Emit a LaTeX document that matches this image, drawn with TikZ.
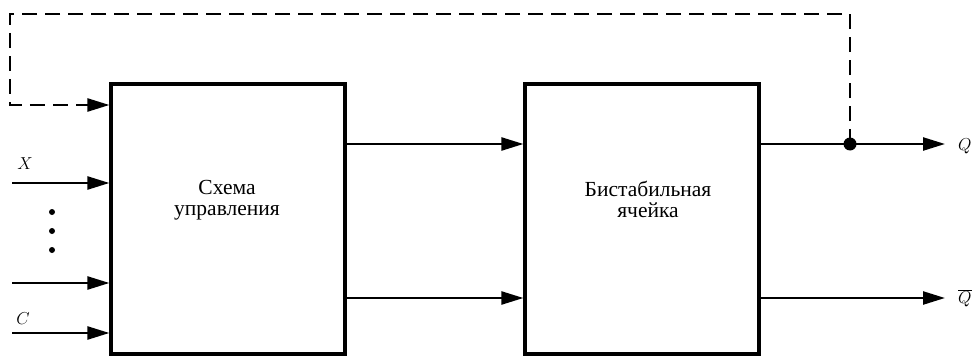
\documentclass[tikz,border=0pt]{standalone}
\usepackage{fontspec}
\setmainfont{Liberation Serif}
\usetikzlibrary{arrows.meta}
\begin{document}
\begin{tikzpicture}[x=1pt,y=-1pt,
  blk/.style={draw,line width=3.2pt,minimum width=234pt,minimum height=270pt,inner sep=0pt},
  txt/.style={font=\fontsize{21.5}{21}\selectfont,align=center,inner sep=0pt},
  lbl/.style={font=\fontsize{19}{20}\selectfont,inner sep=0pt},
  arr/.style={line width=2.4pt,-{Triangle[length=22pt,width=13pt]}},
  fbk/.style={line width=2.4pt,dash pattern=on 15pt off 8pt},
  jdot/.style={circle,fill,inner sep=0pt,minimum size=13pt}]
\useasboundingbox (0,0) rectangle (978,356);
\node[blk] (b1) at (228,219) {};
\node[blk] (b2) at (642,219) {};
\node[txt] (t1) at (227,200) {Схема\\управления};
\node[txt] (t2) at (648,199) {Бистабильная\\ячейка};
% inputs
\coordinate (ix) at (12,183);
\coordinate (in4) at (12,283);
\coordinate (ic) at (12,333);
\draw[arr] (ix) -- (ix -| b1.west);
\draw[arr] (in4) -- (in4 -| b1.west);
\draw[arr] (ic) -- (ic -| b1.west);
\node[lbl] (lx) at (25,164) {$X$};
\node[lbl] (lc) at (23,319) {$C$};
\node[circle,fill,inner sep=0pt,minimum size=6pt] (d1) at (52,212) {};
\node[circle,fill,inner sep=0pt,minimum size=6pt] (d2) at (52,231) {};
\node[circle,fill,inner sep=0pt,minimum size=6pt] (d3) at (52,250) {};
% between blocks
\coordinate (m1) at (345,144);
\coordinate (m2) at (345,298);
\draw[arr] (m1 -| b1.east) -- (m1 -| b2.west);
\draw[arr] (m2 -| b1.east) -- (m2 -| b2.west);
% outputs
\node[jdot] (jn) at (850,144) {};
\coordinate (oq) at (945,144);
\coordinate (oqb) at (945,298);
\draw[arr] (jn -| b2.east) -- (oq);
\draw[arr] (oqb -| b2.east) -- (oqb);
\node[lbl,anchor=west] (lq) at (958,146) {$Q$};
\node[lbl,anchor=west] (lqb) at (958,298) {$\overline{Q}$};
% feedback
\coordinate (f1) at (850,14);
\coordinate (f2) at (10,14);
\coordinate (f3) at (10,105);
\draw[fbk] (jn.center) -- (f1) -- (f2) -- (f3) -- (f3 -| 90,0);
\draw[arr] (f3 -| 88,0) -- (f3 -| b1.west);
\end{tikzpicture}
\end{document}
